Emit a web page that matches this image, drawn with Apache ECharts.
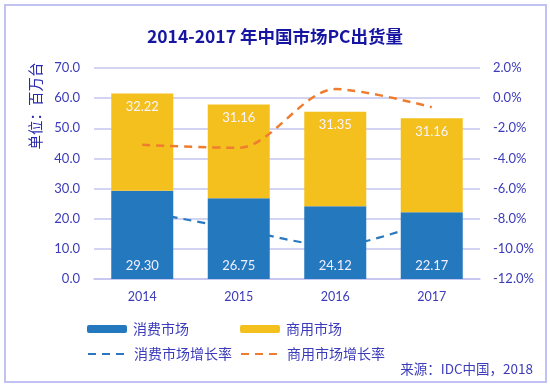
<!DOCTYPE html>
<html>
<head>
<meta charset="utf-8">
<script src="https://cdn.jsdelivr.net/npm/echarts@6/dist/echarts.min.js"></script>
<style>html,body{margin:0;padding:0;background:#fff}#c{width:550px;height:385px}</style>
</head>
<body>
<div id="c"></div>
<script>
var years = ['2014', '2015', '2016', '2017'];
var consumer = [29.30, 26.75, 24.12, 22.17];
var commercial = [32.22, 31.16, 31.35, 31.16];
var consumerGrowth = [-7.5, -8.7, -9.8, -8.1];
var commercialGrowth = [-3.1, -3.3, 0.6, -0.6];
var leftTicks = {min: 0, max: 70, interval: 10};
var rightTicks = {min: -12, max: 2, interval: 2};

var FONT = "Lato, 'Noto Sans CJK SC', sans-serif";
var CJK = "'Noto Sans CJK SC', sans-serif";
var LABEL = '#3b3bbb';
var GRID = '#c4c4f0';
var BLUE = '#2478be';
var YELLOW = '#f4c01e';
var ORANGE = '#ee7d30';
var BLUE_LINE = '#2a78be';

var chart = echarts.init(document.getElementById('c'), null, {renderer: 'canvas'});
function legendAt(name, left, top, isLine) {
  var l = {
    data: [name], left: left, top: top, itemWidth: 40, itemHeight: 8, itemGap: 0,
    textStyle: {color: LABEL, fontSize: 14, fontFamily: CJK, padding: [0, 0, 0, 1]},
    padding: 0
  };
  if (isLine) { l.itemStyle = {opacity: 0}; }
  return l;
}
chart.setOption({
  animation: false,
  title: {
    text: '2014-2017 年中国市场PC出货量', left: 'center', top: 23, padding: [5, 0, 5, 6],
    textStyle: {color: '#1616a2', fontSize: 17.5, fontWeight: 'bold', fontFamily: CJK}
  },
  grid: {left: 94, right: 70, top: 68, bottom: 106},
  legend: [
    legendAt('消费市场', 87, 322, false),
    legendAt('商用市场', 240, 322, false),
    legendAt('消费市场增长率', 87, 347, true),
    legendAt('商用市场增长率', 240, 347, true)
  ],
  xAxis: {
    type: 'category', data: years,
    axisLine: {lineStyle: {color: GRID, width: 1.5}},
    axisTick: {show: false},
    axisLabel: {color: LABEL, fontSize: 12.5, fontFamily: FONT, margin: 12}
  },
  yAxis: [{
    type: 'value', min: leftTicks.min, max: leftTicks.max, interval: leftTicks.interval,
    axisLine: {show: false}, axisTick: {show: false},
    splitLine: {lineStyle: {color: GRID, width: 1.5}},
    axisLabel: {color: LABEL, fontSize: 13, fontFamily: FONT, margin: 14,
      formatter: function (v) { return v.toFixed(1); }}
  }, {
    type: 'value', min: rightTicks.min, max: rightTicks.max, interval: rightTicks.interval,
    axisLine: {show: false}, axisTick: {show: false}, splitLine: {show: false},
    axisLabel: {color: LABEL, fontSize: 13, fontFamily: FONT, margin: 13,
      formatter: function (v) { return v.toFixed(1) + '%'; }}
  }],
  series: [{
    name: '消费市场', type: 'bar', stack: 'total', data: consumer, barWidth: 62,
    itemStyle: {color: BLUE},
    label: {show: true, position: 'insideBottom', distance: 7, color: '#f2f0ff',
      fontSize: 13, fontFamily: FONT, formatter: function (p) { return p.value.toFixed(2); }}
  }, {
    name: '商用市场', type: 'bar', stack: 'total', data: commercial, barWidth: 62,
    itemStyle: {color: YELLOW},
    label: {show: true, position: 'insideTop', distance: 7, color: '#f8f4ff',
      fontSize: 13, fontFamily: FONT, formatter: function (p) { return p.value.toFixed(2); }}
  }, {
    name: '消费市场增长率', type: 'line', yAxisIndex: 1, data: consumerGrowth,
    smooth: 0.3, symbol: 'none', z: 1,
    itemStyle: {color: BLUE_LINE},
    lineStyle: {color: BLUE_LINE, width: 2.2, type: [8, 6]}
  }, {
    name: '商用市场增长率', type: 'line', yAxisIndex: 1, data: commercialGrowth,
    smooth: 0.3, symbol: 'none', z: 5,
    itemStyle: {color: ORANGE},
    lineStyle: {color: ORANGE, width: 2.5, type: [8, 6]}
  }],
  graphic: [{
    type: 'rect', shape: {x: 5, y: 5, width: 541, height: 377},
    style: {fill: 'none', stroke: '#c2c2f2', lineWidth: 2}, silent: true
  }, {
    type: 'text', x: 35, y: 106, rotation: Math.PI / 2,
    style: {text: '单位：百万台', fill: '#2a2ab0', font: "14.5px 'Noto Sans CJK SC'",
      align: 'center', verticalAlign: 'middle'}
  }, {
    type: 'text', x: 533, y: 369,
    style: {text: '来源：IDC中国，2018', fill: LABEL, font: "13.5px 'Noto Sans CJK SC'",
      align: 'right', verticalAlign: 'middle'}
  }]
});
</script>
</body>
</html>
